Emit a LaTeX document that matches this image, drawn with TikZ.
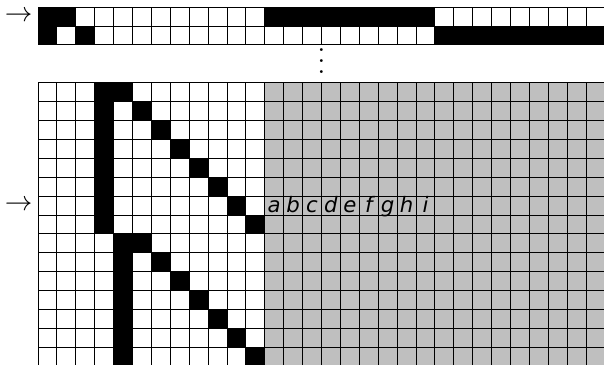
\documentclass[tikz,border=0pt]{standalone}
\usepackage{fontspec}
\newfontfamily\letfont{DejaVu Sans}
\begin{document}
\begin{tikzpicture}[x=0.5cm,y=0.5cm,
  gridline/.style={line width=0.7pt, black, step=1},
  blk/.style={fill=black},
  shade/.style={fill=black!25},
  letter/.style={font=\letfont\itshape\fontsize{16}{17}\selectfont, inner sep=0pt, anchor=base},
  arrowlbl/.style={font=\fontsize{19.5}{20}\selectfont, inner sep=0pt, anchor=east}]
\useasboundingbox (-2.011,-14.884) rectangle (29.947,4.376);
\clip (-2.011,-14.884) rectangle (29.947,4.376);
% top tape
\fill[blk] (0,3) rectangle (2,4);
\fill[blk] (12,3) rectangle (21,4);
\fill[blk] (0,2) rectangle (1,3);
\fill[blk] (2,2) rectangle (3,3);
\fill[blk] (21,2) rectangle (31,3);
\draw[gridline] (0,2) grid (31,4);
\node[arrowlbl] (toparrow) at (-0.28,3.5) {$\rightarrow$};
% dots
\node[scale=2.06, inner sep=0pt, anchor=south] (dots) at (15,0.45) {$\vdots$};
% main grid
\fill[shade] (12,0) rectangle (31,-15);
\foreach \r in {0,...,7} {
  \fill[blk] (3,-\r) rectangle ++(1,-1);
  \fill[blk] ({\r+4},-\r) rectangle ++(1,-1);
}
\foreach \r in {8,...,15} {
  \fill[blk] (4,-\r) rectangle ++(1,-1);
  \fill[blk] ({\r-3},-\r) rectangle ++(1,-1);
}
\draw[gridline] (0,-15) grid (31,0);
\node[arrowlbl] (mainarrow) at (-0.28,-6.5) {$\rightarrow$};
\foreach \l [count=\i from 0] in {a,b,c,d,e,f,g,h,i} {
  \node[letter] (let\i) at ({12.5+\i},-6.86) {\l};
}
\end{tikzpicture}
\end{document}
